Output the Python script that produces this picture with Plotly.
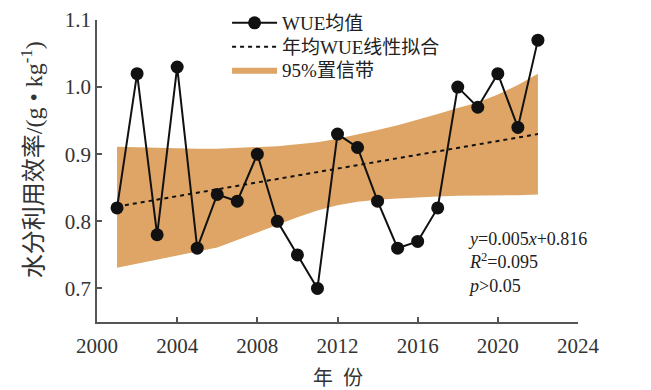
import plotly.graph_objects as go

years = list(range(2001, 2023))
wue = [0.82, 1.02, 0.78, 1.03, 0.76, 0.84, 0.83, 0.90, 0.80, 0.75, 0.70,
       0.93, 0.91, 0.83, 0.76, 0.77, 0.82, 1.00, 0.97, 1.02, 0.94, 1.07]
band_upper = [0.911, 0.910, 0.909, 0.908, 0.908, 0.908, 0.909, 0.910, 0.912, 0.915, 0.918,
              0.923, 0.929, 0.936, 0.943, 0.951, 0.960, 0.969, 0.977, 0.989, 1.003, 1.020]
band_lower = [0.731, 0.737, 0.743, 0.749, 0.755, 0.761, 0.772, 0.784, 0.795, 0.806, 0.816,
              0.824, 0.829, 0.832, 0.834, 0.836, 0.837, 0.838, 0.838, 0.839, 0.839, 0.840]
trend_x = [2001, 2022]
trend_y = [0.822, 0.930]
x_ticks = [2000, 2004, 2008, 2012, 2016, 2020, 2024]
y_ticks = [0.7, 0.8, 0.9, 1.0, 1.1]
stats_text = "<i>y</i>=0.005<i>x</i>+0.816<br><i>R</i><sup>2</sup>=0.095<br><i>p</i>>0.05"

FONT = "Liberation Serif, Noto Sans CJK SC, serif"

fig = go.Figure()
fig.add_trace(go.Scatter(
    x=years + years[::-1], y=band_upper + band_lower[::-1],
    fill="toself", fillcolor="#DEA566", line=dict(width=0, color="#DEA566"),
    mode="lines", name="95%置信带", legend="legend3", hoverinfo="skip"))
fig.add_trace(go.Scatter(
    x=trend_x, y=trend_y, mode="lines",
    line=dict(color="#111111", width=2, dash="4px,4px"),
    name="年均WUE线性拟合", legend="legend2"))
fig.add_trace(go.Scatter(
    x=years, y=wue, mode="lines+markers",
    line=dict(color="#111111", width=2),
    marker=dict(color="#111111", size=13),
    name="WUE均值", legend="legend"))

fig.add_annotation(
    x=2018.4, y=0.738, xref="x", yref="y", xanchor="left", yanchor="middle",
    align="left", showarrow=False, text=stats_text,
    font=dict(family=FONT, size=18, color="#222222"))

# axis titles
fig.add_annotation(
    x=-0.135, y=0.536, xref="paper", yref="paper", xanchor="center", yanchor="middle",
    textangle=-90, showarrow=False,
    text="水分利用效率/(g • kg<sup>-1</sup>)",
    font=dict(family=FONT, size=24, color="#333333"))
fig.add_annotation(
    x=0.5, y=-0.185, xref="paper", yref="paper", xanchor="center", yanchor="middle",
    showarrow=False, text="年  份",
    font=dict(family=FONT, size=20, color="#333333"))

axis_common = dict(showline=True, linecolor="#555555", linewidth=1.5, ticks="inside",
                   ticklen=5, tickwidth=1.5, tickcolor="#555555", showgrid=False,
                   zeroline=False, tickfont=dict(family=FONT, size=21, color="#333333"))

fig.update_xaxes(range=[2000, 2024], tickvals=x_ticks, ticklabelstandoff=4, **axis_common)
fig.update_yaxes(range=[0.65, 1.1], tickvals=y_ticks, tickformat=".1f", **axis_common)

leg_common = dict(x=0.2704, xanchor="left", yanchor="middle", bgcolor="rgba(0,0,0,0)",
                  font=dict(family=FONT, size=19, color="#222222"), itemwidth=45)

fig.update_layout(
    width=651, height=390, plot_bgcolor="white", paper_bgcolor="white",
    margin=dict(l=97, r=73, t=20, b=68, autoexpand=False),
    font=dict(family=FONT, color="#222222"),
    showlegend=True,
    legend=dict(y=0.990, **leg_common),
    legend2=dict(y=0.9106, **leg_common),
    legend3=dict(y=0.8344, **leg_common),
)

fig.write_html("out.html")
